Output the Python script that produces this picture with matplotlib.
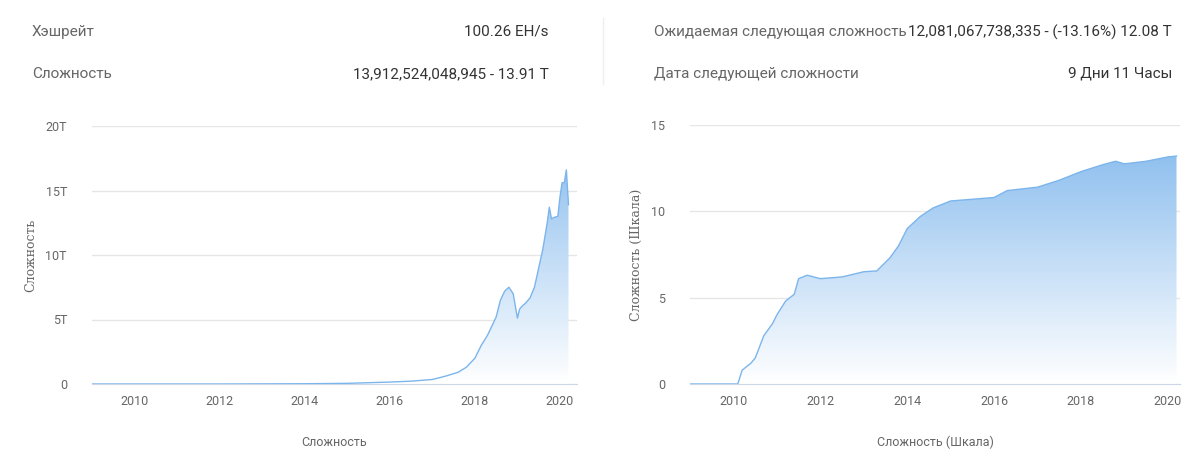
import matplotlib
matplotlib.use('Agg')
import matplotlib.pyplot as plt
import numpy as np
from matplotlib.colors import LinearSegmentedColormap

plt.rcParams['font.family'] = ['Roboto', 'DejaVu Sans']

# difficulty (T), linear chart
lin_x = [2009.0, 2012.0, 2014.0, 2015.0, 2016.0, 2016.5, 2017.0, 2017.3, 2017.6, 2017.8, 2018.0,
         2018.15, 2018.3, 2018.4, 2018.5, 2018.6, 2018.7, 2018.8, 2018.9, 2019.0, 2019.05, 2019.1,
         2019.2, 2019.3, 2019.4, 2019.5, 2019.6, 2019.7, 2019.75, 2019.8, 2019.85, 2019.95,
         2020.0, 2020.05, 2020.1, 2020.15, 2020.2]
lin_y = [0.0, 0.0, 0.02, 0.05, 0.15, 0.22, 0.35, 0.6, 0.9, 1.3, 2.0,
         3.0, 3.8, 4.5, 5.2, 6.5, 7.2, 7.5, 7.0, 5.1, 5.8, 6.0,
         6.3, 6.7, 7.5, 9.0, 10.5, 12.5, 13.7, 12.8, 12.9, 13.0,
         14.5, 15.6, 15.6, 16.6, 13.9]

# difficulty, scaled chart
log_x = [2009.0, 2010.1, 2010.2, 2010.4, 2010.5, 2010.7, 2010.9, 2011.0, 2011.2, 2011.4, 2011.5,
         2011.7, 2012.0, 2012.5, 2013.0, 2013.3, 2013.6, 2013.8, 2014.0, 2014.3, 2014.6, 2015.0,
         2015.5, 2016.0, 2016.3, 2017.0, 2017.5, 2018.0, 2018.5, 2018.8, 2019.0, 2019.5, 2020.0, 2020.2]
log_y = [0.0, 0.0, 0.8, 1.2, 1.5, 2.8, 3.5, 4.0, 4.8, 5.2, 6.1,
         6.3, 6.1, 6.2, 6.5, 6.55, 7.3, 8.0, 9.0, 9.7, 10.2, 10.6,
         10.7, 10.8, 11.2, 11.4, 11.8, 12.3, 12.7, 12.9, 12.75, 12.9, 13.15, 13.2]

LINE = '#7cb5ec'
GRID = '#e6e6e6'
TXT = '#666666'
cmap = LinearSegmentedColormap.from_list('g', ['#ffffff', '#7cb5ec'])

fig = plt.figure(figsize=(12, 4.63), dpi=100)
W, H = 1200, 463

def fpos(x0, y0, x1, y1):
    return [x0 / W, 1 - y1 / H, (x1 - x0) / W, (y1 - y0) / H]

# header stats
fig.text(32 / W, 1 - 32 / H, 'Хэшрейт', color=TXT, fontsize=11, va='center')
fig.text(549 / W, 1 - 32 / H, '100.26 EH/s', color='#333333', fontsize=11, va='center', ha='right')
fig.text(32 / W, 1 - 74 / H, 'Сложность', color=TXT, fontsize=11, va='center')
fig.text(549 / W, 1 - 74 / H, '13,912,524,048,945 - 13.91 T', color='#333333', fontsize=11, va='center', ha='right')
fig.text(654 / W, 1 - 32 / H, 'Ожидаемая следующая сложность', color=TXT, fontsize=11, va='center')
fig.text(1172 / W, 1 - 32 / H, '12,081,067,738,335 - (-13.16%) 12.08 T', color='#333333', fontsize=11, va='center', ha='right')
fig.text(654 / W, 1 - 74 / H, 'Дата следующей сложности', color=TXT, fontsize=11, va='center')
fig.text(1172 / W, 1 - 74 / H, '9 Дни 11 Часы', color='#333333', fontsize=11, va='center', ha='right')
fig.add_artist(plt.Line2D([603 / W, 603 / W], [1 - 18 / H, 1 - 84 / H], color='#eeeeee', lw=1))

def chart(pos, xs, ys, ymax, ticks, tlabels, ylabel, xlabel, xlim):
    ax = fig.add_axes(pos)
    ax.set_xlim(*xlim)
    ax.set_ylim(0, ymax)
    grad = np.linspace(0, 1, 256).reshape(-1, 1)
    im = ax.imshow(grad, extent=[xlim[0], xlim[1], 0, ymax], origin='lower', aspect='auto',
                   cmap=cmap, vmin=0, vmax=1.05, zorder=1)
    poly = ax.fill_between(xs, ys, 0, color='none', lw=0)
    im.set_clip_path(poly.get_paths()[0], transform=ax.transData)
    ax.plot(xs, ys, color=LINE, lw=1, zorder=3)
    ax.set_yticks(ticks)
    ax.set_yticklabels(tlabels)
    ax.set_xticks([2010, 2012, 2014, 2016, 2018, 2020])
    ax.grid(axis='y', color=GRID, lw=1)
    ax.set_axisbelow(True)
    for s in ['top', 'right', 'left']:
        ax.spines[s].set_visible(False)
    ax.spines['bottom'].set_color('#ccd6eb')
    ax.tick_params(axis='y', length=0, colors=TXT, labelsize=9, pad=18)
    ax.tick_params(axis='x', length=0, colors=TXT, labelsize=9, pad=8)
    ax.set_ylabel(ylabel, color=TXT, fontsize=9, family=['DejaVu Serif'], labelpad=6)
    ax.set_xlabel(xlabel, color=TXT, fontsize=9, labelpad=20)
    return ax

chart(fpos(92, 126, 577, 384), lin_x, lin_y, 20, [0, 5, 10, 15, 20],
      ['0', '5T', '10T', '15T', '20T'], 'Сложность', 'Сложность', (2009.0, 2020.4))
chart(fpos(690, 125, 1180, 384), log_x, log_y, 15, [0, 5, 10, 15],
      ['0', '5', '10', '15'], 'Сложность (Шкала)', 'Сложность (Шкала)', (2009.0, 2020.28))

plt.savefig('out.png', dpi=100, facecolor='white')
